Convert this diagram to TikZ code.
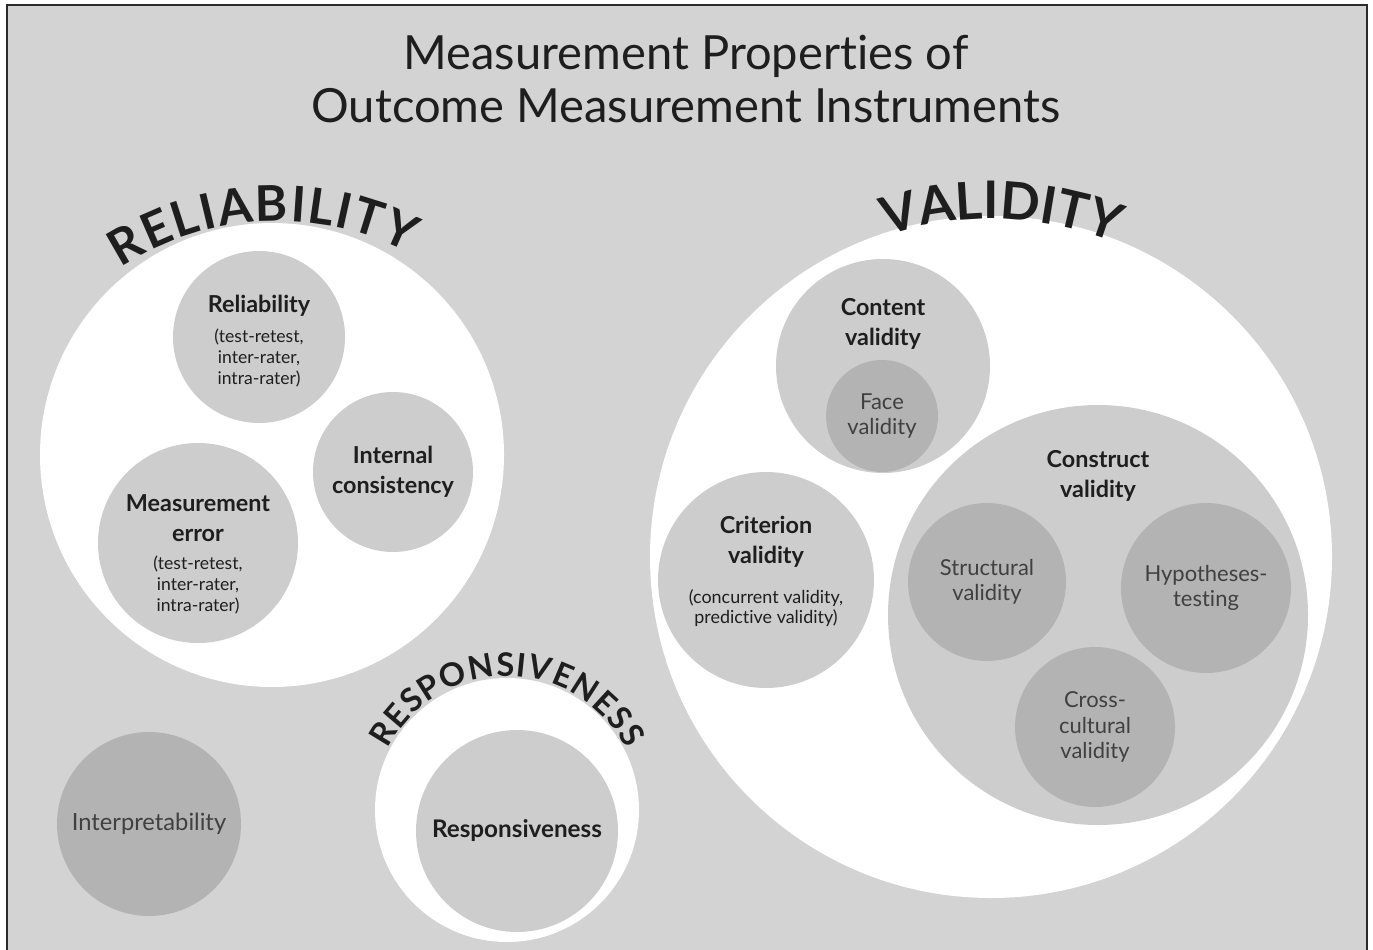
\documentclass[tikz,border=0pt]{standalone}
\usepackage{fontspec}
\setmainfont{Lato}[Ligatures={NoCommon,NoRequired,NoContextual}]
\usetikzlibrary{calc,decorations.text}
\definecolor{ink}{HTML}{1E1E1E}
\definecolor{soft}{HTML}{404040}
\definecolor{paper}{HTML}{D3D3D3}
\definecolor{midfill}{HTML}{CDCDCD}
\definecolor{darkfill}{HTML}{B3B3B3}
\definecolor{frame}{HTML}{2B2B2B}
\newcommand\reliafont{\color{ink}\fontsize{28}{28}\selectfont\bfseries}
\newcommand\validfont{\color{ink}\fontsize{29.5}{30}\selectfont\bfseries}
\newcommand\respfont{\color{ink}\fontsize{18.5}{19}\selectfont\bfseries}

\begin{document}
\begin{tikzpicture}[
  ring/.style={circle,fill=white,inner sep=0pt},
  bubble/.style={circle,fill=midfill,inner sep=0pt,align=center,text=ink,
                 font=\fontsize{13.3}{17}\selectfont\bfseries},
  core/.style={circle,fill=darkfill,inner sep=0pt,align=center,text=soft,
               font=\fontsize{12.5}{14.4}\selectfont},
  head/.style={font=\fontsize{13.3}{17}\selectfont\bfseries,text=ink,align=center},
  note/.style={font=\fontsize{10}{11.8}\selectfont,text=ink,align=center},
  title/.style={font=\fontsize{26.8}{30.5}\selectfont,text=ink,align=center},
  arclabel/.style={decorate,decoration={text along path,text align={fit to path}}}
]
\useasboundingbox (0,0) rectangle (27.46,18.98);
\fill[white] (0,0) rectangle (27.46,18.98);

% Panel
\draw[frame,line width=1.1pt,fill=paper] (0.14,-0.50) rectangle (27.34,18.88);

% Title
\node[title] (title) at (13.72,17.40)
  {Measurement Properties of\\Outcome Measurement Instruments};

% Reliability domain
\node[ring,minimum size=9.28cm] (reliring) at (5.44,9.88) {};
\node[bubble,minimum size=3.44cm] (relia) at (5.18,12.24) {};
\node[head] (reliahead) at ($(relia)+(0,0.62)$) {Reliability};
\node[note] (relianote) at ($(relia)+(0,-0.42)$) {(test-retest,\\inter-rater,\\intra-rater)};
\node[bubble,minimum size=3.20cm] (internal) at (7.86,9.54) {Internal\\consistency};
\node[bubble,minimum size=4.00cm] (measerr) at (3.96,8.12) {};
\node[head] (meashead) at ($(measerr)+(0,0.50)$) {Measurement\\error};
\node[note] (measnote) at ($(measerr)+(0,-0.84)$) {(test-retest,\\inter-rater,\\intra-rater)};
\coordinate (reliarc) at (5.56,8.80);
\path[arclabel,decoration={text={|\reliafont|RELIABILITY}}]
  (reliarc) ++(123:5.76) arc[start angle=123,end angle=63,radius=5.76];

% Responsiveness domain
\node[ring,minimum size=5.28cm] (respring) at (10.14,2.78) {};
\node[bubble,minimum size=4.04cm,font=\fontsize{13.8}{17}\selectfont\bfseries] (resp) at (10.34,2.36) {Responsiveness};
\path[arclabel,decoration={text={|\respfont|RESPONSIVENESS}}]
  (respring.center) ++(153:2.68) arc[start angle=153,end angle=27,radius=2.68];

% Interpretability
\node[core,minimum size=3.68cm,font=\fontsize{13.5}{15}\selectfont] (interp) at (2.98,2.50) {Interpretability};

% Validity domain
\node[ring,minimum size=13.64cm] (validring) at (19.82,7.84) {};
\node[bubble,minimum size=4.28cm] (content) at (17.66,11.66) {};
\node[head] (contenthead) at ($(content)+(0,0.84)$) {Content\\validity};
\node[core,minimum size=2.24cm] (face) at (17.64,10.66) {Face\\validity};
\node[bubble,minimum size=4.32cm] (criterion) at (15.32,7.38) {};
\node[head] (criterionhead) at ($(criterion)+(0,0.76)$) {Criterion\\validity};
\node[note,font=\fontsize{10.2}{11}\selectfont] (criterionnote) at ($(criterion)+(0,-0.56)$)
  {(concurrent validity,\\predictive validity)};
\node[bubble,minimum size=8.40cm] (construct) at (21.96,6.68) {};
\node[head] (constructhead) at ($(construct)+(0,2.78)$) {Construct\\validity};
\node[core,minimum size=3.16cm] (struct) at (19.74,7.34) {Structural\\validity};
\node[core,minimum size=3.40cm] (hypo) at (24.12,7.22) {Hypotheses-\\testing};
\node[core,minimum size=3.20cm] (cross) at (21.90,4.44) {Cross-\\cultural\\validity};
\path[arclabel,decoration={text={|\validfont|VALIDITY}}]
  (validring.center) ++(108:6.76) arc[start angle=108,end angle=71,radius=6.76];

\end{tikzpicture}
\end{document}
